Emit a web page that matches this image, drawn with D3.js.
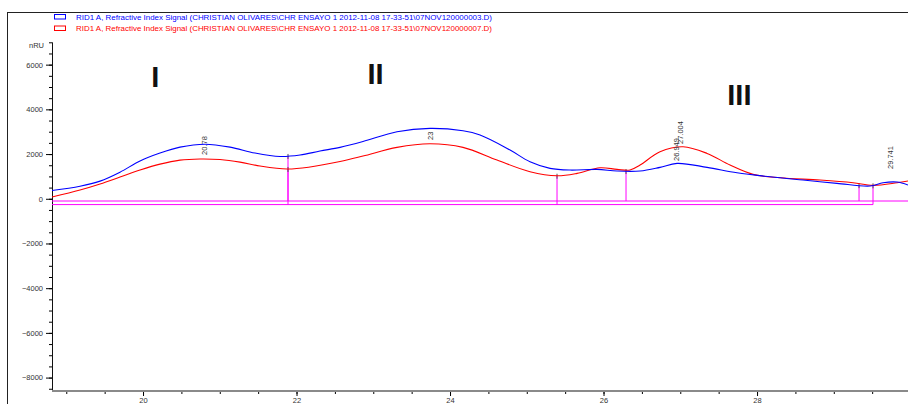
<!DOCTYPE html>
<html>
<head>
<meta charset="utf-8">
<script src="https://cdn.jsdelivr.net/npm/d3@7"></script>
<style>
  body { margin: 0; background: #fff; }
  svg { display: block; font-family: "Liberation Sans", Arial, sans-serif; }
</style>
</head>
<body>
<svg width="908" height="404"></svg>
<script>
"use strict"

// retention time (min) and signal (nRU), sample 003 (blue)
const blueTime = [18.814, 19.179, 19.44, 19.7, 19.961, 20.221, 20.482, 20.808, 21.134, 21.459,
    21.785, 22.046, 22.306, 22.567, 22.866, 23.309, 23.739, 24.169, 24.391, 24.782,
    25.042, 25.303, 25.564, 25.915, 26.176, 26.476, 26.736, 26.958, 27.349, 27.739,
    28.169, 28.599, 29.042, 29.472, 29.642, 29.824, 29.967]
const blueSignal = [370, 560, 790, 1190, 1690, 2045, 2310, 2440, 2310, 2045,
    1890, 1955, 2135, 2300, 2560, 3000, 3150, 3040, 2850, 2180,
    1655, 1360, 1284, 1315, 1240, 1240, 1405, 1584, 1405, 1163,
    985, 837, 690, 568, 716, 747, 613]

// sample 007 (red)
const redTime = [18.814, 19.179, 19.44, 19.7, 19.961, 20.221, 20.482, 20.743, 21.003, 21.264,
    21.524, 21.876, 22.176, 22.567, 22.866, 23.309, 23.739, 24.169, 24.612, 25.042,
    25.394, 25.655, 25.954, 26.176, 26.345, 26.476, 26.736, 27.036, 27.349, 27.648,
    27.948, 28.3, 28.821, 29.251, 29.511, 29.824, 29.967]
const redSignal = [80, 390, 660, 970, 1285, 1550, 1730, 1780, 1755, 1640,
    1465, 1330, 1420, 1665, 1910, 2300, 2460, 2300, 1730, 1210,
    1030, 1136, 1387, 1315, 1284, 1508, 2103, 2327, 2030, 1508,
    1092, 940, 837, 716, 600, 716, 792]

// integration baselines and peak borders
const blueBaseline = -100
const redBaseline = -260
const blueDrops = [21.889, 26.293, 29.329]
const redDrops = [21.889, 25.394, 29.511]
const blueBaseEnd = 29.967
const redBaseEnd = 29.511

// peak annotations
const peakTimes = [20.8, 23.74, 26.949, 27.004, 29.741]
const peakLabels = ["20.78", "23", "26.949", "27.004", "29.741"]
const peakLabelLevel = [1960, 2630, 1690, 2450, 1330]

// region tags
const regionNames = ["I", "II", "III"]
const regionTimes = [20.16, 23.03, 27.77]
const regionLevels = [5000, 5150, 4200]

const yMajor = [-8000, -6000, -4000, -2000, 0, 2000, 4000, 6000]
const xMajor = [20, 22, 24, 26, 28]

const legendItems = [
    {text: "RID1 A, Refractive Index Signal (CHRISTIAN OLIVARES\\CHR ENSAYO 1 2012-11-08 17-33-51\\07NOV120000003.D)", color: "#0000ff"},
    {text: "RID1 A, Refractive Index Signal (CHRISTIAN OLIVARES\\CHR ENSAYO 1 2012-11-08 17-33-51\\07NOV120000007.D)", color: "#ff0000"}
]

/**
* @param {Array<Number>} ts times of a series
* @param {Array<Number>} vs signal of a series
* @param {number} t time to look up
* @return {number} signal at t, read off the series
*/
function signalAt(ts, vs, t) {
    let i = d3.bisectLeft(ts, t)
    if (i <= 0) return vs[0]
    if (i >= ts.length) return vs[vs.length - 1]
    let f = (t - ts[i - 1]) / (ts[i] - ts[i - 1])
    return vs[i - 1] + f * (vs[i] - vs[i - 1])
}

let svg = d3.select("svg")
let x = d3.scaleLinear().domain([18.814, 29.967]).range([52, 908])
let y = d3.scaleLinear().domain([-8600, 7000]).range([391, 42.3])

// outer frame
svg.append("line").attr("x1", 7.5).attr("x2", 7.5).attr("y1", 12).attr("y2", 404)
    .attr("stroke", "#222").attr("stroke-width", 1)
svg.append("line").attr("x1", 7).attr("x2", 908).attr("y1", 12.5).attr("y2", 12.5)
    .attr("stroke", "#222").attr("stroke-width", 1)

// legend
let legend = svg.append("g")
legendItems.forEach((d, i) => {
    let ly = 15 + i * 11.5
    legend.append("rect").attr("x", 54.5).attr("y", ly - 0.5)
        .attr("width", 11).attr("height", 4.5)
        .attr("fill", "none").attr("stroke", d.color).attr("stroke-width", 1)
    legend.append("text").attr("x", 76).attr("y", ly + 4.6)
        .attr("font-size", 7.6).attr("fill", d.color)
        .attr("textLength", 416).attr("lengthAdjust", "spacingAndGlyphs")
        .text(d.text)
})

// y axis
svg.append("g").attr("transform", "translate(52,0)")
    .call(d3.axisLeft(y).tickValues(d3.range(-8500, 7001, 500)).tickSize(3).tickFormat(""))
    .call(g => g.select(".domain").remove())
svg.append("g").attr("transform", "translate(52,0)")
    .call(d3.axisLeft(y).tickValues(yMajor).tickSize(6).tickPadding(3).tickFormat(d3.format("d")))
    .call(g => g.select(".domain").remove())
    .call(g => g.selectAll("text").attr("font-size", 7.5).attr("fill", "#333")
        .attr("font-family", "Liberation Sans, Arial, sans-serif"))
svg.append("line").attr("x1", 52.5).attr("x2", 52.5).attr("y1", y(7000)).attr("y2", 391)
    .attr("stroke", "#111")
svg.append("text").attr("x", 44).attr("y", 48).attr("text-anchor", "end")
    .attr("font-size", 7.5).attr("fill", "#333").text("nRU")

// x axis
svg.append("g").attr("transform", "translate(0,391)")
    .call(d3.axisBottom(x).tickValues(d3.range(19, 30, 0.5)).tickSize(3).tickFormat(""))
    .call(g => g.select(".domain").remove())
svg.append("g").attr("transform", "translate(0,391)")
    .call(d3.axisBottom(x).tickValues(xMajor).tickSize(5).tickPadding(2).tickFormat(d3.format("d")))
    .call(g => g.select(".domain").remove())
    .call(g => g.selectAll("text").attr("font-size", 7.5).attr("fill", "#333")
        .attr("font-family", "Liberation Sans, Arial, sans-serif"))
svg.append("line").attr("x1", 52).attr("x2", 908).attr("y1", 391).attr("y2", 391)
    .attr("stroke", "#8a8a8a").attr("stroke-width", 2)

// baselines
svg.append("line").attr("x1", x.range()[0]).attr("x2", x(blueBaseEnd))
    .attr("y1", y(blueBaseline)).attr("y2", y(blueBaseline))
    .attr("stroke", "#ff00ff").attr("stroke-width", 1)
svg.append("line").attr("x1", x.range()[0]).attr("x2", x(redBaseEnd))
    .attr("y1", y(redBaseline)).attr("y2", y(redBaseline))
    .attr("stroke", "#ff00ff").attr("stroke-width", 1)

// drop lines
blueDrops.forEach(t => {
    let top = signalAt(blueTime, blueSignal, t)
    svg.append("line").attr("x1", x(t)).attr("x2", x(t))
        .attr("y1", y(top)).attr("y2", y(blueBaseline))
        .attr("stroke", "#ff00ff").attr("stroke-width", 1)
    svg.append("line").attr("x1", x(t)).attr("x2", x(t))
        .attr("y1", y(top) - 2).attr("y2", y(top) + 3)
        .attr("stroke", "#555").attr("stroke-width", 1)
})
redDrops.forEach(t => {
    let top = signalAt(redTime, redSignal, t)
    svg.append("line").attr("x1", x(t)).attr("x2", x(t))
        .attr("y1", y(top)).attr("y2", y(redBaseline))
        .attr("stroke", "#ff00ff").attr("stroke-width", 1)
    svg.append("line").attr("x1", x(t)).attr("x2", x(t))
        .attr("y1", y(top) - 2).attr("y2", y(top) + 3)
        .attr("stroke", "#555").attr("stroke-width", 1)
})

// signals
let line = d3.line().x(d => x(d[0])).y(d => y(d[1])).curve(d3.curveCatmullRom.alpha(0.5))
svg.append("path").datum(d3.zip(redTime, redSignal))
    .attr("fill", "none").attr("stroke", "#ff0000").attr("stroke-width", 1.1)
    .attr("d", line)
svg.append("path").datum(d3.zip(blueTime, blueSignal))
    .attr("fill", "none").attr("stroke", "#0000ff").attr("stroke-width", 1.1)
    .attr("d", line)

// peak retention time labels
peakTimes.forEach((t, i) => {
    svg.append("text")
        .attr("transform", "translate(" + (x(t) + 2.5) + "," + y(peakLabelLevel[i]) + ") rotate(-90)")
        .attr("font-size", 7.5).attr("fill", "#333")
        .text(peakLabels[i])
})

// region tags
regionNames.forEach((n, i) => {
    svg.append("text").attr("x", x(regionTimes[i])).attr("y", y(regionLevels[i]))
        .attr("text-anchor", "middle").attr("font-size", 29).attr("font-weight", "bold")
        .attr("fill", "#111").text(n)
})
</script>
</body>
</html>
